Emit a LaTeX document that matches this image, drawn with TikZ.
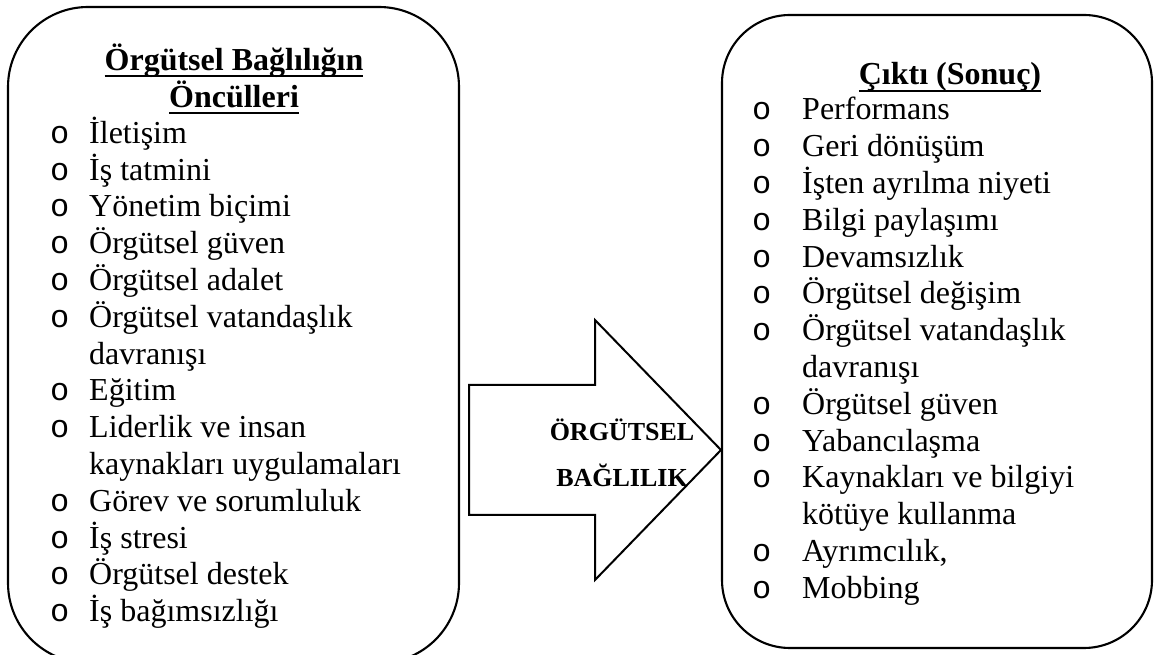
\documentclass[tikz,border=0pt]{standalone}
\usepackage{fontspec}
\setmainfont{Liberation Serif}
\newfontfamily\bulletfont{Liberation Mono}
\usepackage{tikz}

\newcommand\bl{{\bulletfont o}}
\newcommand\undl[1]{\setbox0\hbox{#1}\rlap{\rule[-7pt]{\wd0}{2pt}}\box0}
\newcommand\stack[2]{\vtop{\baselineskip=#1\lineskiplimit=-100pt\let\\\cr
  \halign{\hfil##\hfil\cr#2\crcr}}}
\newcommand\lines[2]{\vtop{\baselineskip=36.8pt\lineskiplimit=-100pt\let\\\cr
  \halign{\hbox to #1{##\hfil}&##\hfil\cr#2\crcr}}}

\begin{document}
\begin{tikzpicture}[x=1pt, y=1pt,
    every node/.style={inner sep=0pt, font=\fontsize{32}{36.8}\selectfont},
    panel/.style={draw, line width=2.1pt},
    head/.style={font=\fontsize{32}{36.8}\selectfont\bfseries}
  ]
  \useasboundingbox (0,0) rectangle (1154,655);
  \clip (0,0) rectangle (1154,655);
  \node[panel, rounded corners=80pt, minimum width=451pt, minimum height=656pt] (oncbox) at (233.5,320) {};
  \node[panel, rounded corners=68pt, minimum width=430pt, minimum height=633pt] (ciktibox) at (937,323.5) {};
  \draw[panel, line width=2pt] (469,270) -- (595,270) -- (595,335) -- (721,205)
    -- (595,75) -- (595,140) -- (469,140) -- cycle;
  \node[head, anchor=base] (oncbas) at (234,584.5)
    {\stack{36.8pt}{\undl{Örgütsel Bağlılığın}\\\undl{Öncülleri}}};
  \node[anchor=base west] (onclist) at (50,511.7) {\lines{39pt}{%
    \bl & İletişim\\
    \bl & İş tatmini\\
    \bl & Yönetim biçimi\\
    \bl & Örgütsel güven\\
    \bl & Örgütsel adalet\\
    \bl & Örgütsel vatandaşlık\\
        & davranışı\\
    \bl & Eğitim\\
    \bl & Liderlik ve insan\\
        & kaynakları uygulamaları\\
    \bl & Görev ve sorumluluk\\
    \bl & İş stresi\\
    \bl & Örgütsel destek\\
    \bl & İş bağımsızlığı}};
  \node[head, anchor=base] (ciktibas) at (950,570) {\stack{36.8pt}{\undl{Çıktı (Sonuç)}}};
  \node[anchor=base west] (ciktilist) at (752,535) {\lines{50pt}{%
    \bl & Performans\\
    \bl & Geri dönüşüm\\
    \bl & İşten ayrılma niyeti\\
    \bl & Bilgi paylaşımı\\
    \bl & Devamsızlık\\
    \bl & Örgütsel değişim\\
    \bl & Örgütsel vatandaşlık\\
        & davranışı\\
    \bl & Örgütsel güven\\
    \bl & Yabancılaşma\\
    \bl & Kaynakları ve bilgiyi\\
        & kötüye kullanma\\
    \bl & Ayrımcılık,\\
    \bl & Mobbing}};
  \node[font=\fontsize{26}{46}\selectfont\bfseries, anchor=base] (bag) at (622,214)
    {\stack{46pt}{ÖRGÜTSEL\\BAĞLILIK}};
\end{tikzpicture}
\end{document}
